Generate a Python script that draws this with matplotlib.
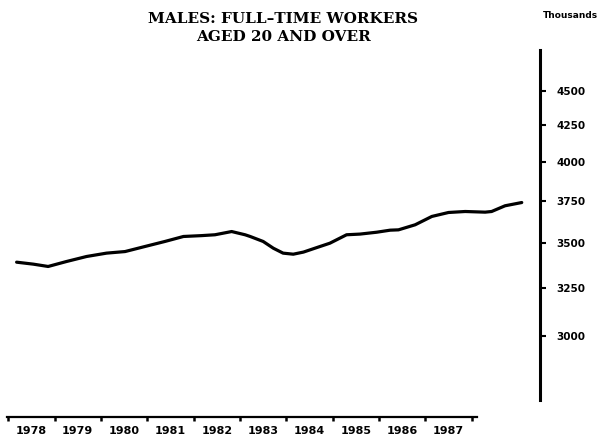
import matplotlib
matplotlib.use("Agg")
import matplotlib.pyplot as plt
from matplotlib.ticker import NullLocator, FixedLocator

# Data (time in years, value in thousands)
years = [1978.18, 1978.54, 1978.86, 1979.26, 1979.69, 1980.12, 1980.52, 1980.95,
         1981.38, 1981.78, 1982.17, 1982.46, 1982.82, 1983.11, 1983.22, 1983.50,
         1983.72, 1983.93, 1984.15, 1984.37, 1984.66, 1984.94, 1985.30, 1985.59,
         1985.95, 1986.24, 1986.42, 1986.78, 1987.14, 1987.50, 1987.86, 1988.29,
         1988.43, 1988.72, 1989.08]
workers = [3390, 3379, 3366, 3394, 3422, 3441, 3450, 3479,
           3508, 3537, 3542, 3547, 3566, 3547, 3537, 3508,
           3469, 3441, 3435, 3447, 3473, 3498, 3547, 3551,
           3562, 3574, 3576, 3606, 3656, 3680, 3686, 3682,
           3686, 3721, 3741]

year_labels = ["1978", "1979", "1980", "1981", "1982", "1983", "1984", "1985", "1986", "1987"]
year_starts = list(range(1978, 1989))
y_ticks = [3000, 3250, 3500, 3750, 4000, 4250, 4500]
y_labels = ["3000", "3250", "3500", "3750", "4000", "4250", "4500"]
title = "MALES: FULL\u2013TIME WORKERS\nAGED 20 AND OVER"
unit_label = "Thousands"

fig = plt.figure(figsize=(6.01, 4.38), dpi=100)
ax = fig.add_axes([8 / 601, 21 / 438, 532 / 601, 367 / 438])

ax.plot(years, workers, color="black", linewidth=2.3, solid_capstyle="round",
        solid_joinstyle="round")

ax.set_yscale("log")
ax.set_ylim(2625, 4813)
ax.set_xlim(1977.994, 1989.474)

# spines
for s in ["top", "left"]:
    ax.spines[s].set_visible(False)
ax.spines["right"].set_linewidth(2.2)
ax.spines["right"].set_bounds(2699, 4813)
ax.spines["bottom"].set_linewidth(1.6)
ax.spines["bottom"].set_bounds(1977.97, 1988.12)

# y axis on right
ax.yaxis.tick_right()
ax.yaxis.set_major_locator(FixedLocator(y_ticks))
ax.set_yticklabels(y_labels)
ax.yaxis.set_minor_locator(NullLocator())
ax.tick_params(axis="y", which="major", direction="out", length=4, width=1.5,
               pad=8, labelsize=7.5)
for lab in ax.get_yticklabels():
    lab.set_fontweight("bold")

# x axis: ticks at year boundaries, labels at year centres
ax.set_xticks(year_starts)
ax.set_xticklabels([""] * len(year_starts))
ax.set_xticks([y + 0.5 for y in year_starts[:-1]], minor=True)
ax.set_xticklabels(year_labels, minor=True)
ax.tick_params(axis="x", which="major", direction="out", length=3, width=1.8)
ax.tick_params(axis="x", which="minor", length=0, pad=6.5, labelsize=8)
for lab in ax.get_xticklabels(minor=True):
    lab.set_fontweight("bold")

fig.text(283 / 601, 1 - 12 / 438, title, ha="center", va="top", fontsize=11,
         fontweight="heavy", family="DejaVu Serif", linespacing=1.35)
fig.text(598 / 601, 1 - 15 / 438, unit_label, ha="right", va="center",
         fontsize=6.5, fontweight="bold")

fig.savefig("out.png", dpi=100)
